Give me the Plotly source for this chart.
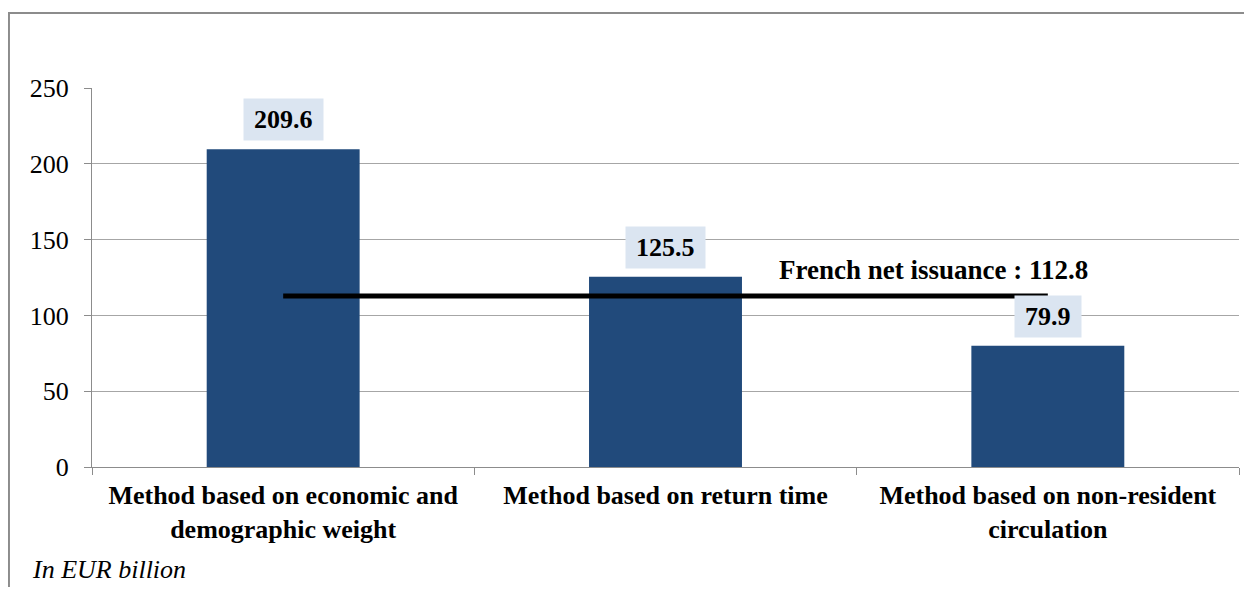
import plotly.graph_objects as go

# data
categories = [
    "Method based on economic and<br>demographic weight",
    "Method based on return time",
    "Method based on non-resident<br>circulation",
]
values = [209.6, 125.5, 79.9]
value_labels = ["209.6", "125.5", "79.9"]
net_issuance = 112.8
net_issuance_label = "French net issuance : 112.8"
y_ticks = [0, 50, 100, 150, 200, 250]

BAR = "#214a7b"
LABEL_BG = "#dbe5f1"
GRID = "#a6a6a6"
AXIS = "#8c8c8c"
FONT = "Liberation Serif, Times New Roman, serif"
FS = 26

# the page body keeps an 8px margin, so the figure is sized to fit inside it
W, H = 1236, 579

fig = go.Figure()

fig.add_trace(go.Bar(
    x=categories,
    y=values,
    marker=dict(color=BAR, line=dict(width=0)),
    width=0.4,
    hoverinfo="x+y",
))

# net issuance reference line from first to last category centre
fig.add_trace(go.Scatter(
    x=[categories[0], categories[-1]],
    y=[net_issuance, net_issuance],
    mode="lines",
    line=dict(color="black", width=5),
    hoverinfo="skip",
))

pad = '<span style="font-size:16px">&nbsp;</span>'
annotations = []
for cat, v, lbl in zip(categories, values, value_labels):
    annotations.append(dict(
        x=cat, y=v, xref="x", yref="y",
        text=pad + "<b>" + lbl + "</b>" + pad,
        showarrow=False,
        yanchor="bottom", yshift=8,
        bgcolor=LABEL_BG, borderpad=6,
        font=dict(family=FONT, size=FS, color="black"),
    ))

annotations.append(dict(
    x=1.7, y=130, xref="x", yref="y",
    text="<b>" + net_issuance_label + "</b>",
    showarrow=False,
    font=dict(family=FONT, size=27, color="black"),
))

annotations.append(dict(
    x=-0.054, y=-0.27, xref="paper", yref="paper",
    xanchor="left", yanchor="middle",
    text="<i>In EUR billion</i>",
    showarrow=False,
    font=dict(family=FONT, size=FS, color="black"),
))

fig.update_layout(
    width=W,
    height=H,
    margin=dict(l=84, r=5, t=80, b=120, pad=0),
    paper_bgcolor="white",
    plot_bgcolor="white",
    showlegend=False,
    font=dict(family=FONT, size=FS, color="black"),
    annotations=annotations,
    shapes=[dict(
        type="rect", xref="paper", yref="paper",
        x0=-0.0724, x1=1.2, y0=-1.0, y1=1.198,
        line=dict(color=AXIS, width=2),
        fillcolor="rgba(0,0,0,0)",
        layer="below",
    )],
)

fig.update_xaxes(
    showgrid=False,
    showline=True, linecolor=AXIS, linewidth=1,
    ticks="outside", tickson="boundaries", ticklen=7, tickcolor=AXIS,
    ticklabelstandoff=5,
    tickfont=dict(family=FONT, size=FS, color="black"),
    tickprefix="<b>", ticksuffix="</b>",
)

fig.update_yaxes(
    range=[0, 250],
    tickvals=y_ticks,
    showgrid=True, gridcolor=GRID, gridwidth=1,
    showline=True, linecolor=AXIS, linewidth=1,
    ticks="outside", ticklen=7, tickcolor=AXIS,
    ticklabelstandoff=10,
    tickfont=dict(family=FONT, size=FS, color="black"),
    zeroline=False,
)

fig.write_html("out.html")
